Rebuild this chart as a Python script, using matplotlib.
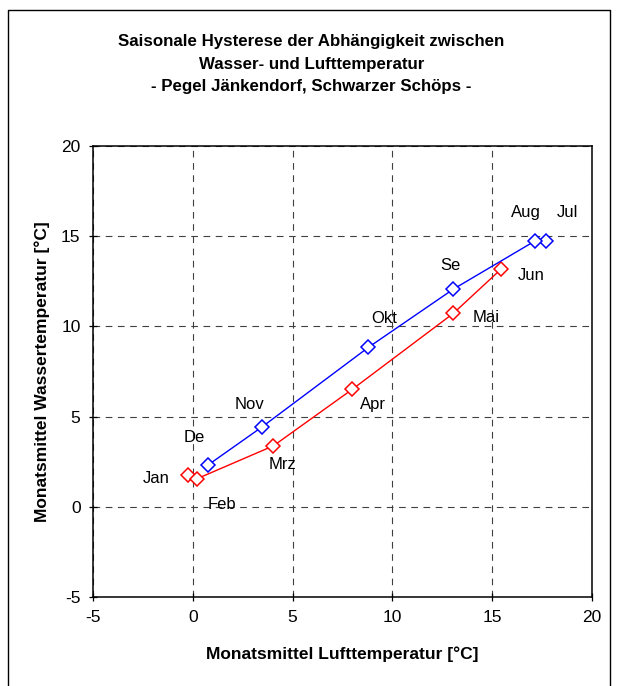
import matplotlib
matplotlib.use("Agg")
import matplotlib.pyplot as plt
from matplotlib.lines import Line2D

plt.rcParams["font.family"] = ["Liberation Sans", "DejaVu Sans"]
plt.rcParams["axes.unicode_minus"] = False

# Jan - Jun (Erwaermung)
months_up = ["Jan", "Feb", "Mrz", "Apr", "Mai", "Jun"]
air_up = [-0.22, 0.2, 4.04, 8.0, 13.05, 15.43]
water_up = [1.77, 1.55, 3.38, 6.52, 10.72, 13.16]

# Jul - Dez (Abkuehlung)
months_down = ["Jul", "Aug", "Se", "Okt", "Nov", "De"]
air_down = [17.7, 17.15, 13.06, 8.8, 3.46, 0.78]
water_down = [14.74, 14.74, 12.07, 8.84, 4.42, 2.33]

# label offsets in pixels (dx, dy)
off_up = [(-32, -4), (25, -26), (9, -19), (20, -15), (33, -4), (30, -6)]
off_down = [(21, 28), (-9, 28), (-3, 24), (16, 29), (-12, 23), (-14, 27)]


def main():
    fig = plt.figure(figsize=(6.17, 6.86), dpi=100)
    ax = fig.add_axes([93 / 617, 1 - 597 / 686, 499 / 617, 451 / 686])

    ax.plot(air_up, water_up, color="#ff0000", lw=1.0, marker="D", ms=6.8,
            mfc="white", mec="#ff0000", mew=1.1, zorder=3)
    ax.plot(air_down, water_down, color="#0000ff", lw=1.0, marker="D", ms=6.8,
            mfc="white", mec="#0000ff", mew=1.1, zorder=4)

    for names, xs, ys, offs in [(months_up, air_up, water_up, off_up),
                                (months_down, air_down, water_down, off_down)]:
        for n, x, y, (dx, dy) in zip(names, xs, ys, offs):
            ax.annotate(n, (x, y), xytext=(dx * 0.72, dy * 0.72),
                        textcoords="offset points", ha="center", va="center",
                        fontsize=12)

    ax.set_xlim(-5, 20)
    ax.set_ylim(-5, 20)
    ax.set_xticks(range(-5, 21, 5))
    ax.set_yticks(range(-5, 21, 5))
    ax.grid(True, color="0.25", lw=0.8, linestyle=(0, (6, 5)))
    ax.set_axisbelow(True)
    ax.tick_params(direction="inout", length=6, width=0.9, labelsize=12.5,
                   pad=6)
    for s in ax.spines.values():
        s.set_linewidth(1.1)
        s.set_color("black")

    ax.set_xlabel("Monatsmittel Lufttemperatur [°C]", fontsize=12.5,
                  fontweight="bold", labelpad=16)
    ax.set_ylabel("Monatsmittel Wassertemperatur [°C]", fontsize=12.5,
                  fontweight="bold", labelpad=8)

    title = ("Saisonale Hysterese der Abhängigkeit zwischen\n"
             "Wasser- und Lufttemperatur\n"
             "- Pegel Jänkendorf, Schwarzer Schöps -")
    fig.text(0.505, 1 - 64 / 686, title, ha="center", va="center",
             fontsize=12.2, fontweight="bold", linespacing=1.62)

    # outer chart border
    fig.add_artist(Line2D([8 / 617, 8 / 617, 610 / 617, 610 / 617],
                          [-0.01, 1 - 10 / 686, 1 - 10 / 686, -0.01],
                          color="black", lw=1.0, transform=fig.transFigure))

    fig.savefig("out.png", dpi=100, facecolor="white")


if __name__ == "__main__":
    main()
